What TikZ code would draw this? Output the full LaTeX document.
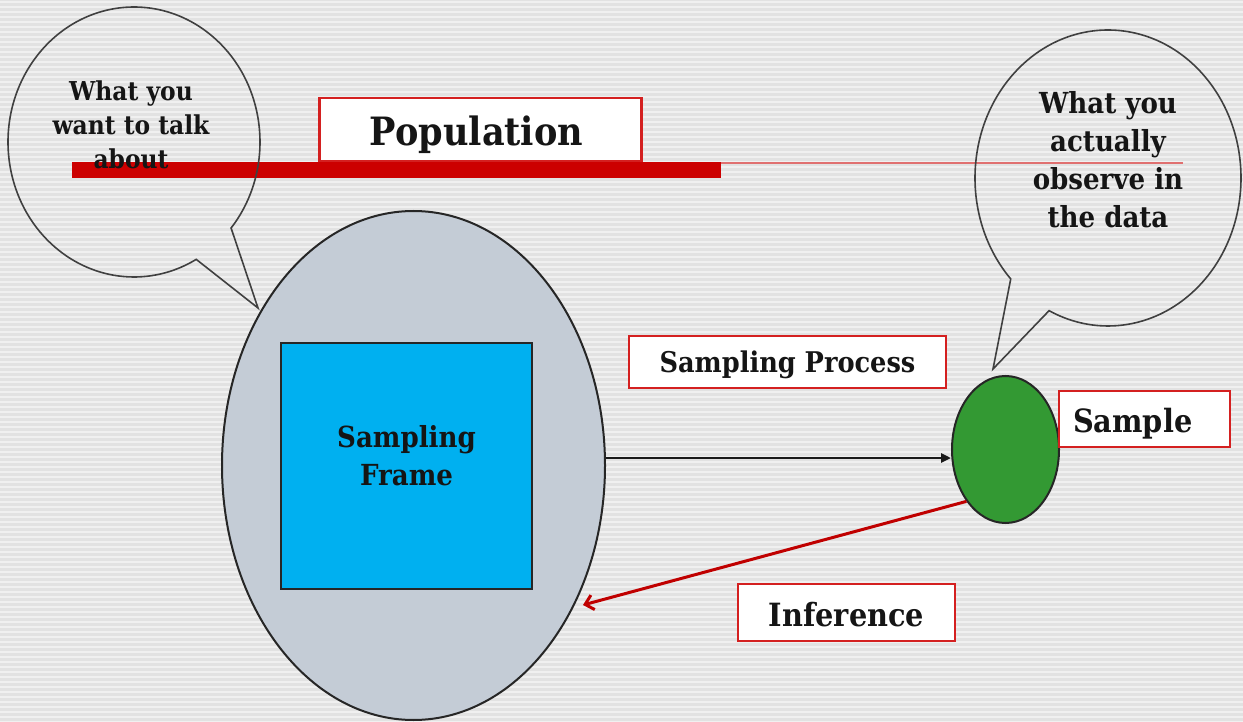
\documentclass[tikz,border=0pt]{standalone}
\usepackage{fontspec}
\setmainfont{DejaVu Serif Condensed}
\usetikzlibrary{arrows.meta,shapes.geometric,calc}
\definecolor{bgbase}{HTML}{E2E2E2}
\definecolor{bgline}{HTML}{F0F0F0}
\definecolor{barred}{HTML}{CC0000}
\definecolor{thinred}{HTML}{E07070}
\definecolor{boxred}{HTML}{D42020}
\definecolor{popfill}{HTML}{C4CCD6}
\definecolor{framefill}{HTML}{00B0F0}
\definecolor{sampgreen}{HTML}{339933}
\definecolor{infred}{HTML}{C00000}
\definecolor{txt}{HTML}{151515}
\definecolor{bubline}{HTML}{404040}
\newcommand{\lowertext}[2]{\raisebox{-#1}[\height][\depth]{#2}}
\tikzset{
  labelbox/.style={draw=boxred, fill=white, line width=2.6pt, inner sep=0pt, text=txt, font=\bfseries\fontsize{28}{34}\selectfont},
  bubtext/.style={align=center, text=txt, inner sep=0pt},
  bubble/.style={draw=bubline, line width=1.6pt, line join=miter},
}
\begin{document}
\begin{tikzpicture}[x=1pt,y=-1pt]
\useasboundingbox (0,0) rectangle (1243,722);
\fill[bgbase] (0,0) rectangle (1243,722);
\foreach \i in {0,...,144} \fill[bgline] (0,\i*5+1) rectangle (1243,\i*5+3);

% population bar
\fill[barred] (72,162) rectangle (721,178);
\draw[thinred, line width=2pt] (721,163) -- (1183,163);

% population box
\node[labelbox, minimum width=322pt, minimum height=63pt, font=\bfseries\fontsize{39}{44}\selectfont] (poplabel) at (480.5,129.5) {\lowertext{5pt}{\hspace*{-8pt}Population}};

% left bubble
\coordinate (lbc) at (134,142);
\coordinate (ltip) at (258,308);
\draw[bubble] (ltip) -- ($(lbc)+(39.6:126 and 135)$) arc[start angle=39.6, end angle=-299.6, x radius=126, y radius=135] -- cycle;
\node[bubtext, font=\bfseries\fontsize{26}{34}\selectfont] (ltext) at (131,125) {What you\\want to talk\\about};

% big population ellipse
\node[ellipse, draw=black!85, line width=2pt, fill=popfill, minimum width=383pt, minimum height=509pt, inner sep=0pt] (pop) at (413.5,465.5) {};

% sampling frame
\node[draw=black!85, line width=2.2pt, fill=framefill, minimum width=251pt, minimum height=246pt, inner sep=0pt] (frame) at (406.5,466) {};
\node[bubtext, font=\bfseries\fontsize{29}{38}\selectfont] (frametext) at (406.5,456) {Sampling\\Frame};

% right bubble
\coordinate (rbc) at (1108,178);
\coordinate (rtip) at (993,369);
\draw[bubble] (rtip) -- ($(rbc)+(137.0:133 and 148)$) arc[start angle=137.0, end angle=476.3, x radius=133, y radius=148] -- cycle;
\node[bubtext, font=\bfseries\fontsize{29}{38}\selectfont] (rtext) at (1108,160) {What you\\actually\\observe in\\the data};

% sample ellipse
\node[ellipse, draw=black!85, line width=2pt, fill=sampgreen, minimum width=107pt, minimum height=147pt, inner sep=0pt] (samp) at (1005.5,449.5) {};

% labels
\node[labelbox, minimum width=317pt, minimum height=52pt, font=\bfseries\fontsize{28.5}{34}\selectfont] (sproc) at (787.5,362) {\lowertext{3pt}{Sampling Process}};
\node[labelbox, minimum width=171pt, minimum height=56pt, text width=143pt, align=left, font=\bfseries\fontsize{32}{36}\selectfont] (samplabel) at (1144.5,419) {\lowertext{5pt}{Sample}};
\node[labelbox, minimum width=217pt, minimum height=57pt, font=\bfseries\fontsize{32}{36}\selectfont] (inflabel) at (846.5,612.5) {\lowertext{2pt}{Inference}};

% arrows
\coordinate (ay) at (0,458);
\draw[black!90, line width=2.6pt, -{Triangle[length=10pt,width=9pt]}] (pop.east |- ay) -- (samp.west |- ay);
\coordinate (infend) at (583,605);
\draw[infred, line width=3pt, -{Straight Barb[length=8pt,width=15pt]}] (samp.233) -- (infend);
\end{tikzpicture}
\end{document}
